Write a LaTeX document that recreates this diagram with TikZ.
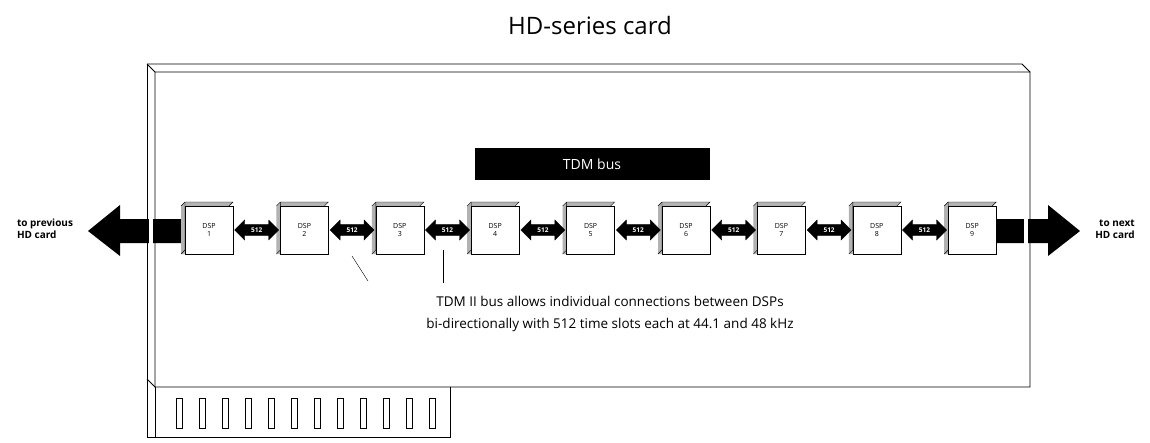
\documentclass[tikz,border=0pt]{standalone}
\usepackage{fontspec}
\setmainfont{Open Sans}
\usetikzlibrary{positioning,shapes.arrows,calc}

\begin{document}
\begin{tikzpicture}[x=1pt,y=-1pt,
	dspnode/.style={draw,fill=white,minimum size=48pt,inner sep=0pt,font=\fontsize{7}{8}\selectfont,align=center},
	linknode/.style={double arrow,fill=black,draw=black,inner sep=1pt,minimum height=44pt,minimum width=20pt,double arrow head extend=3pt,font=\fontsize{6.5}{7}\selectfont\bfseries,text=white},
	sidelabel/.style={font=\fontsize{10}{12}\selectfont\bfseries,align=left}]
	\useasboundingbox (0,0) rectangle (1150,442);
	% card
	\draw[thick,fill=white] (147,64) -- (155,72) -- (1030,72) -- (1030,387) -- (155,387) -- (155,72);
	\draw[thick] (147,64) -- (1022,64) -- (1030,72);
	\draw[thick] (147,64) -- (147,437) -- (155,437);
	\draw[thick] (155,387) -- (155,437) -- (450,437) -- (450,387);
	\draw[thick] (147,379) -- (155,387);
	\foreach \i in {0,...,11}
		\draw (176+23*\i,398) rectangle +(6,30);
	% title and bus
	\node[font=\fontsize{24}{28}\selectfont] (title) at (590,25) {HD-series card};
	\node[fill=black,text=white,minimum width=235pt,minimum height=32pt,font=\fontsize{14}{16}\selectfont] (bus) at (592,164) {TDM bus};
	% outer arrows
	\fill (182,219) -- (120,219) -- (120,205) -- (88,231) -- (120,256) -- (120,243) -- (182,243) -- cycle;
	\fill (995,219) -- (1048,219) -- (1048,205) -- (1080,231) -- (1048,256) -- (1048,243) -- (995,243) -- cycle;
	\fill[white] (149,212) rectangle (153,248);
	\fill[white] (1024,212) rectangle (1028,248);
	\node[sidelabel] (prev) at (45,229) {to previous\\HD card};
	\node[sidelabel,align=right] (next) at (1115,229) {to next\\HD card};
	% dsps
	\foreach \n in {1,...,9} {
		\fill[gray!60] (85.6+95.4*\n,206) -- (89.6+95.4*\n,202) -- (137.6+95.4*\n,202) -- (133.6+95.4*\n,206) -- (133.6+95.4*\n,254) -- (85.6+95.4*\n,254) -- cycle;
		\draw (85.6+95.4*\n,206) -- (89.6+95.4*\n,202) -- (137.6+95.4*\n,202) -- (133.6+95.4*\n,206);
		\draw (85.6+95.4*\n,254) -- (89.6+95.4*\n,250) -- (89.6+95.4*\n,202);
		\node[dspnode] (d\n) at (113.6+95.4*\n,230) {DSP\\\n};
	}
	\foreach \a/\b in {1/2,2/3,3/4,4/5,5/6,6/7,7/8,8/9}
		\node[linknode] (l\a) at ($(d\a)!0.5!(d\b)$) {512};
	% note
	\node[font=\fontsize{13.5}{22}\selectfont,align=center] (note) at (610,314) {TDM II bus allows individual connections between DSPs\\bi-directionally with 512 time slots each at 44.1 and 48 kHz};
	\coordinate (p1) at (368,281);
	\coordinate (p2) at (443,283);
	\draw (p1) -- (352,256);
	\draw (p2) -- (443,250);
\end{tikzpicture}
\end{document}
